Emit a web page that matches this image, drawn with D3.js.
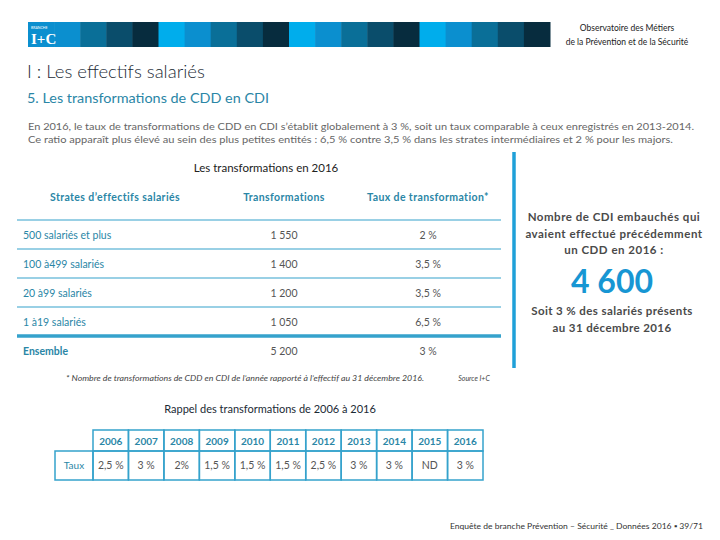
<!DOCTYPE html>
<html>
<head>
<meta charset="utf-8">
<script src="https://cdn.jsdelivr.net/npm/d3@7"></script>
<style>
  body { margin: 0; background: #fff; }
  svg { display: block; font-family: Lato, "Open Sans", sans-serif; }
</style>
</head>
<body>
<svg id="chart" width="720" height="540"></svg>
<script>
// table 2016
var strates = ['500 salariés et plus', '100 à499 salariés', '20 à99 salariés', '1 à19 salariés', 'Ensemble'];
var transformations = [1550, 1400, 1200, 1050, 5200];
var tauxStrates = ['2 %', '3,5 %', '3,5 %', '6,5 %', '3 %'];
var colonnes = ['Strates d\u2019effectifs salariés', 'Transformations', 'Taux de transformation*'];

// rappel 2006-2016
var annees = [2006, 2007, 2008, 2009, 2010, 2011, 2012, 2013, 2014, 2015, 2016];
var tauxAnnees = ['2,5 %', '3 %', '2%', '1,5 %', '1,5 %', '1,5 %', '2,5 %', '3 %', '3 %', 'ND', '3 %'];

// bandeau
var bandShades = ['#0b8fcf', '#0b8fcf', '#0a6f98', '#0a4d6b', '#072c3e',
                  '#00adec', '#0b8fcf', '#0a6f98', '#0a4d6b', '#072c3e',
                  '#00adec', '#0b8fcf', '#0a6f98', '#0a4d6b', '#072c3e',
                  '#00adec', '#0b8fcf', '#0a6f98', '#0a4d6b', '#072c3e'];

var teal = '#2a86a6', line = '#35a2cc', grey = '#555';
var fr = d3.formatLocale({decimal: ',', thousands: '\u00a0', grouping: [3], currency: ['', ' €']});
var fmt = fr.format(',d');

var svg = d3.select('#chart');

// ---- header band
var xb = d3.scaleBand().domain(d3.range(bandShades.length)).range([28, 550]);
svg.append('g').selectAll('rect')
    .data(bandShades)
    .join('rect')
    .attr('x', function(d, i) { return xb(i); })
    .attr('y', 22)
    .attr('width', xb.bandwidth() + 0.5)
    .attr('height', 25)
    .attr('fill', function(d) { return d; });

var logo = svg.append('g');
logo.append('text').attr('x', 31).attr('y', 29).attr('font-size', 3.5).attr('fill', '#fff')
    .text('BRANCHE');
logo.append('text').attr('x', 31).attr('y', 44).attr('font-size', 15).attr('font-weight', 'bold')
    .attr('font-family', 'Liberation Serif, serif').attr('fill', '#fff').text('I+C');

svg.append('text').attr('x', 627).attr('y', 31).attr('text-anchor', 'middle')
    .attr('font-size', 8.5).attr('fill', '#222').text('Observatoire des Métiers');
svg.append('text').attr('x', 627).attr('y', 45).attr('text-anchor', 'middle')
    .attr('font-size', 8.5).attr('fill', '#222').text('de la Prévention et de la Sécurité');

// ---- titles
svg.append('text').attr('x', 27).attr('y', 78).attr('font-size', 18.5).attr('font-weight', 300)
    .attr('fill', '#1b2a35').text('I : Les effectifs salariés');
svg.append('text').attr('x', 27).attr('y', 103).attr('font-size', 13.5).attr('fill', teal)
    .attr('textLength', 242).attr('lengthAdjust', 'spacingAndGlyphs')
    .text('5. Les transformations de CDD en CDI');

var para = ['En 2016, le taux de transformations de CDD en CDI s\u2019établit globalement à 3 %, soit un taux comparable à ceux enregistrés en 2013-2014.',
            'Ce ratio apparaît plus élevé au sein des plus petites entités : 6,5 % contre 3,5 % dans les strates intermédiaires et 2 % pour les majors.'];
svg.append('g').selectAll('text')
    .data(para)
    .join('text')
    .attr('x', 28)
    .attr('y', function(d, i) { return 130 + i * 13; })
    .attr('font-size', 9)
    .attr('fill', '#666')
    .attr('textLength', function(d, i) { return i === 0 ? 666 : 645; })
    .attr('lengthAdjust', 'spacingAndGlyphs')
    .text(function(d) { return d; });

// ---- table 2016
svg.append('text').attr('x', 266).attr('y', 172).attr('text-anchor', 'middle')
    .attr('font-size', 11.5).attr('fill', '#222').text('Les transformations en 2016');

var colX = [115, 284, 428];
svg.append('g').selectAll('text')
    .data(colonnes)
    .join('text')
    .attr('x', function(d, i) { return colX[i]; })
    .attr('y', 201)
    .attr('text-anchor', 'middle')
    .attr('font-size', 10.5)
    .attr('letter-spacing', 0.4)
    .attr('font-weight', 'bold')
    .attr('fill', teal)
    .text(function(d) { return d; });

var y = d3.scaleBand().domain(d3.range(strates.length)).range([220, 365]);

var rows = svg.append('g').selectAll('g')
    .data(strates)
    .join('g')
    .attr('transform', function(d, i) { return 'translate(0,' + y(i) + ')'; });

rows.append('line')
    .attr('x1', 17).attr('x2', 501)
    .attr('y1', 0).attr('y2', 0)
    .attr('stroke', line)
    .attr('stroke-width', function(d, i) { return i === strates.length - 1 ? 3.5 : 1.2; });

rows.append('text')
    .attr('x', 23)
    .attr('y', y.bandwidth() / 2 + 4)
    .attr('font-size', 10.5)
    .attr('font-weight', function(d, i) { return i === strates.length - 1 ? 'bold' : 'normal'; })
    .attr('fill', teal)
    .text(function(d) { return d; });

rows.append('text')
    .attr('x', colX[1])
    .attr('y', y.bandwidth() / 2 + 4)
    .attr('text-anchor', 'middle')
    .attr('font-size', 10.5)
    .attr('fill', grey)
    .text(function(d, i) { return fmt(transformations[i]); });

rows.append('text')
    .attr('x', colX[2])
    .attr('y', y.bandwidth() / 2 + 4)
    .attr('text-anchor', 'middle')
    .attr('font-size', 10.5)
    .attr('fill', grey)
    .text(function(d, i) { return tauxStrates[i]; });

svg.append('text').attr('x', 66).attr('y', 381)
    .attr('font-size', 7).attr('font-style', 'italic').attr('fill', '#444')
    .attr('textLength', 358).attr('lengthAdjust', 'spacingAndGlyphs')
    .text('* Nombre de transformations de CDD en CDI de l\u2019année rapporté à l\u2019effectif au 31 décembre 2016.');
svg.append('text').attr('x', 474).attr('y', 381).attr('text-anchor', 'middle')
    .attr('font-size', 7).attr('font-style', 'italic').attr('fill', '#444').text('Source I+C');

// ---- right panel
svg.append('line').attr('x1', 514).attr('x2', 514).attr('y1', 152).attr('y2', 368)
    .attr('stroke', '#1fa0d8').attr('stroke-width', 3.5);

var side1 = ['Nombre de CDI embauchés qui', 'avaient effectué précédemment', 'un CDD en 2016 :'];
var side2 = ['Soit 3 % des salariés présents', 'au 31 décembre 2016'];
svg.append('g').selectAll('text')
    .data(side1)
    .join('text')
    .attr('x', 614)
    .attr('y', function(d, i) { return 221 + i * 16.5; })
    .attr('text-anchor', 'middle')
    .attr('font-size', 11.5)
    .attr('letter-spacing', 0.5)
    .attr('font-weight', 'bold')
    .attr('fill', '#4a4a4a')
    .text(function(d) { return d; });
svg.append('text').attr('x', 612).attr('y', 293).attr('text-anchor', 'middle')
    .attr('font-size', 32).attr('font-weight', 'bold').attr('fill', '#1796d3').text(fmt(4600));
svg.append('g').selectAll('text')
    .data(side2)
    .join('text')
    .attr('x', 612)
    .attr('y', function(d, i) { return 315 + i * 16.5; })
    .attr('text-anchor', 'middle')
    .attr('font-size', 11.5)
    .attr('letter-spacing', 0.4)
    .attr('font-weight', 'bold')
    .attr('fill', '#4a4a4a')
    .text(function(d) { return d; });

// ---- rappel 2006-2016
svg.append('text').attr('x', 270).attr('y', 413).attr('text-anchor', 'middle')
    .attr('font-size', 11).attr('fill', '#1b2a35').text('Rappel des transformations de 2006 à 2016');

var x = d3.scaleBand().domain(annees).range([93, 483]);
var hTop = 430, hMid = 451, hBot = 480;
var rappel = svg.append('g');

rappel.append('rect').attr('x', 55).attr('y', hMid).attr('width', 38).attr('height', hBot - hMid)
    .attr('fill', 'none').attr('stroke', line).attr('stroke-width', 1.5);
rappel.append('text').attr('x', 74).attr('y', hMid + 18).attr('text-anchor', 'middle')
    .attr('font-size', 10).attr('fill', teal).text('Taux');

var cells = rappel.selectAll('g.cell')
    .data(annees)
    .join('g')
    .attr('class', 'cell');

cells.append('rect')
    .attr('x', function(d) { return x(d); })
    .attr('y', hTop)
    .attr('width', x.bandwidth())
    .attr('height', hMid - hTop)
    .attr('fill', 'none').attr('stroke', line).attr('stroke-width', 1.5);
cells.append('rect')
    .attr('x', function(d) { return x(d); })
    .attr('y', hMid)
    .attr('width', x.bandwidth())
    .attr('height', hBot - hMid)
    .attr('fill', 'none').attr('stroke', line).attr('stroke-width', 1.5);
cells.append('text')
    .attr('x', function(d) { return x(d) + x.bandwidth() / 2; })
    .attr('y', hTop + 14.5)
    .attr('text-anchor', 'middle')
    .attr('font-size', 10).attr('font-weight', 'bold').attr('fill', teal)
    .text(function(d) { return d; });
cells.append('text')
    .attr('x', function(d) { return x(d) + x.bandwidth() / 2; })
    .attr('y', hMid + 18)
    .attr('text-anchor', 'middle')
    .attr('font-size', 10.5).attr('fill', grey)
    .text(function(d, i) { return tauxAnnees[i]; });

// ---- footer
svg.append('text').attr('x', 703).attr('y', 529).attr('text-anchor', 'end')
    .attr('font-size', 7.5).attr('fill', '#333')
    .attr('textLength', 253).attr('lengthAdjust', 'spacingAndGlyphs')
    .text('Enquête de branche Prévention \u2013 Sécurité _ Données 2016 \u25aa 39/71');
</script>
</body>
</html>
